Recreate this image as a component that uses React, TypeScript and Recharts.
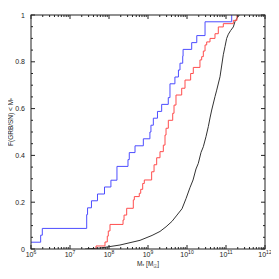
import React from 'react';
import { LineChart, Line, XAxis, YAxis, Label } from 'recharts';

// Blue sample (step CDF): stellar mass [Msun] and cumulative fraction
const blueMass = [1.0e6, 1.77e6, 1.95e6, 2.68e7, 2.82e7, 3.55e7, 5.07e7, 7.67e7, 1.12e8, 1.6e8, 3.07e8, 3.31e8, 4.65e8, 7.59e8, 1.12e9, 1.19e9, 1.37e9, 1.75e9, 2.24e9, 3.31e9, 3.66e9, 4.9e9, 6.03e9, 6.61e9, 7.76e9, 7.94e9, 1.32e10, 1.78e10, 2.9e10, 1.4e11];
const blueFrac = [0.029, 0.059, 0.088, 0.147, 0.176, 0.206, 0.235, 0.265, 0.294, 0.353, 0.382, 0.412, 0.441, 0.471, 0.5, 0.529, 0.559, 0.588, 0.618, 0.647, 0.706, 0.735, 0.765, 0.794, 0.824, 0.853, 0.882, 0.912, 0.971, 1.0];

// Red sample (step CDF)
const redMass = [4.65e7, 4.65e7, 7.89e7, 9.04e7, 9.59e7, 1.06e8, 2.29e8, 2.43e8, 2.84e8, 4.2e8, 4.46e8, 5.98e8, 6.5e8, 7.31e8, 8.04e8, 1.24e9, 1.43e9, 1.67e9, 2.03e9, 2.47e9, 2.73e9, 2.9e9, 3.32e9, 4.3e9, 4.65e9, 5.22e9, 7.31e9, 8.89e9, 1.24e10, 1.45e10, 2.15e10, 2.38e10, 2.62e10, 2.9e10, 3.2e10, 3.89e10, 5.22e10, 6.35e10, 8.53e10, 1.54e11, 1.91e11];
const redFrac = [0, 0.013, 0.03, 0.055, 0.077, 0.105, 0.124, 0.145, 0.174, 0.21, 0.224, 0.238, 0.255, 0.28, 0.295, 0.33, 0.36, 0.39, 0.416, 0.444, 0.487, 0.516, 0.55, 0.58, 0.615, 0.658, 0.687, 0.722, 0.75, 0.776, 0.808, 0.822, 0.846, 0.872, 0.885, 0.9, 0.92, 0.949, 0.963, 0.977, 1.0];

// Black model curve
const blackMass = [2.43e7, 5.87e7, 1.91e8, 6.24e8, 1.27e9, 2.03e9, 2.9e9, 4.12e9, 5.54e9, 7.45e9, 9.42e9, 1.19e10, 1.43e10, 1.7e10, 1.95e10, 2.29e10, 2.62e10, 3.07e10, 3.52e10, 3.89e10, 4.3e10, 5.22e10, 5.78e10, 7.02e10, 8.53e10, 9.42e10, 1.04e11, 1.15e11, 1.32e11, 1.54e11, 1.7e11, 1.88e11, 2.19e11];
const blackFrac = [0, 0.004, 0.017, 0.037, 0.058, 0.075, 0.095, 0.118, 0.145, 0.172, 0.215, 0.262, 0.295, 0.342, 0.366, 0.413, 0.437, 0.48, 0.523, 0.56, 0.594, 0.651, 0.679, 0.736, 0.83, 0.865, 0.9, 0.918, 0.934, 0.949, 0.972, 0.984, 1.0];

// Axis ticks
const xDecades = [6, 7, 8, 9, 10, 11, 12];
const xMinorMult = [1, 2, 3, 4, 5, 6, 7, 8, 9];
const yMajor = [0, 0.2, 0.4, 0.6, 0.8, 1];
const yMinorStep = [0, 0.05, 0.1, 0.15, 0.2, 0.25, 0.3, 0.35, 0.4, 0.45, 0.5, 0.55, 0.6, 0.65, 0.7, 0.75, 0.8, 0.85, 0.9, 0.95, 1];
const yLabels = ['0', '0.2', '0.4', '0.6', '0.8', '1'];

const xTicks: number[] = [];
xDecades.forEach((d) => {
  if (d === 12) xTicks.push(Math.pow(10, d));
  else xMinorMult.forEach((m) => xTicks.push(m * Math.pow(10, d)));
});

const zip = (xs: number[], ys: number[]) => xs.map((m, i) => ({ m, f: ys[i] }));
const blueData = zip(blueMass, blueFrac);
const redData = zip(redMass, redFrac);
const blackData = zip(blackMass, blackFrac);

const INK = '#222';
const FONT = '"Liberation Sans", Arial, Helvetica, sans-serif';
const W = 271;
const H = 271;
const M = { top: 7, right: 14, bottom: 10, left: 0 };
const X_AXIS_H = 20;
const Y_AXIS_W = 23;
const PLOT_W = W - M.left - M.right - Y_AXIS_W;
const PLOT_H = H - M.top - M.bottom - X_AXIS_H;

const isMajorX = (v: number) => {
  const l = Math.log10(v);
  return Math.abs(l - Math.round(l)) < 1e-6;
};
const isMajorY = (v: number) => yMajor.some((t) => Math.abs(t - v) < 1e-6);

// bottom tick (label + inward tick) plus the mirrored tick on the top frame
function BottomTick(props: any) {
  const { x, y, payload, index } = props;
  const v = payload.value;
  const major = isMajorX(v);
  const len = major ? 4 : 2;
  const exp = Math.round(Math.log10(v));
  const top = y - PLOT_H;
  return (
    <g>
      {index === 0 && (
        <rect x={x} y={top} width={PLOT_W} height={PLOT_H} fill="none" stroke={INK} strokeWidth={1} />
      )}
      <line x1={x} x2={x} y1={y} y2={y - len} stroke={INK} strokeWidth={1} />
      <line x1={x} x2={x} y1={top} y2={top + len} stroke={INK} strokeWidth={1} />
      {major && (
        <text x={x} y={y + 8} textAnchor="middle" fontSize={7} fill={INK} fontFamily={FONT}>
          <tspan>10</tspan>
          <tspan dy={-3} fontSize={5}>{exp}</tspan>
        </text>
      )}
    </g>
  );
}

// left tick (label + inward tick) plus the mirrored tick on the right frame
function LeftTick(props: any) {
  const { x, y, payload } = props;
  const v = payload.value;
  const major = isMajorY(v);
  const len = major ? 4 : 2;
  const idx = yMajor.findIndex((t) => Math.abs(t - v) < 1e-6);
  const right = x + PLOT_W;
  return (
    <g>
      <line x1={x} x2={x + len} y1={y} y2={y} stroke={INK} strokeWidth={1} />
      <line x1={right} x2={right - len} y1={y} y2={y} stroke={INK} strokeWidth={1} />
      {major && (
        <text x={x - 6} y={y + 2.5} textAnchor="end" fontSize={7} fill={INK} fontFamily={FONT}>
          {yLabels[idx]}
        </text>
      )}
    </g>
  );
}

function YTitle(props: any) {
  const vb = props.viewBox || { x: 0, y: 7, width: 23, height: 234 };
  const cx = 2;
  const cy = vb.y + vb.height / 2 - 10;
  return (
    <text
      x={cx}
      y={cy}
      transform={`rotate(-90 ${cx} ${cy})`}
      textAnchor="middle"
      dominantBaseline="central"
      fontSize={6.5}
      fill={INK}
      fontFamily={FONT}
    >
      <tspan>F(GRB/SN) &lt; M</tspan>
      <tspan dy={1.5} fontSize={5}>*</tspan>
    </text>
  );
}

function XTitle(props: any) {
  const vb = props.viewBox || { x: 23, y: 241, width: 234, height: 20 };
  const cx = vb.x + vb.width / 2;
  const cy = 258;
  return (
    <text x={cx} y={cy} textAnchor="middle" fontSize={6.5} fill={INK} fontFamily={FONT}>
      <tspan>M</tspan>
      <tspan dy={1.5} fontSize={5}>*</tspan>
      <tspan dy={-1.5}> [M</tspan>
      <tspan dy={1.5} fontSize={5}>☉</tspan>
      <tspan dy={-1.5}>]</tspan>
    </text>
  );
}

export default function App() {
  return (
    <LineChart width={W} height={H} margin={M}>
      <XAxis
        dataKey="m"
        type="number"
        scale="log"
        domain={[1e6, 1e12]}
        allowDataOverflow
        ticks={xTicks}
        interval={0}
        tickSize={0}
        tickMargin={0}
        tick={<BottomTick />}
        axisLine={false}
        height={X_AXIS_H}
      >
        <Label content={<XTitle />} />
      </XAxis>
      <YAxis
        type="number"
        domain={[0, 1]}
        allowDataOverflow
        ticks={yMinorStep}
        interval={0}
        tickSize={0}
        tickMargin={0}
        tick={<LeftTick />}
        axisLine={false}
        width={Y_AXIS_W}
      >
        <Label content={<YTitle />} />
      </YAxis>
      <Line data={blackData} dataKey="f" type="linear" stroke="#333" strokeWidth={1} dot={false} isAnimationActive={false} />
      <Line data={redData} dataKey="f" type="stepAfter" stroke="#ff4d4d" strokeWidth={1} dot={false} isAnimationActive={false} />
      <Line data={blueData} dataKey="f" type="stepAfter" stroke="#4d4dff" strokeWidth={1} dot={false} isAnimationActive={false} />
    </LineChart>
  );
}
